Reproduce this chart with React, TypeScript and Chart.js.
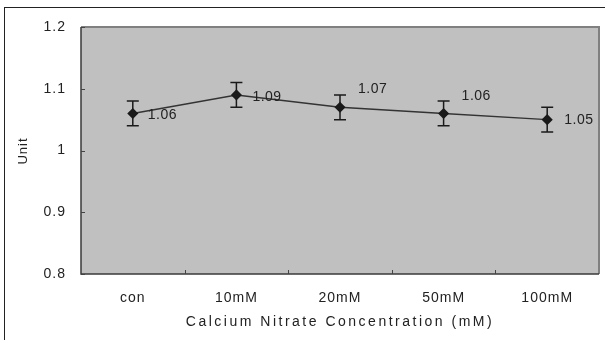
import React, { useEffect, useRef } from "react";
import { Chart, registerables } from "chart.js";

Chart.register(...registerables);

const categories = ["con", "10mM", "20mM", "50mM", "100mM"];
const means = [1.06, 1.09, 1.07, 1.06, 1.05];
const errors = [0.02, 0.02, 0.02, 0.02, 0.02];
const yTickValues = [0.8, 0.9, 1, 1.1, 1.2];
const xAxisTitle = "Calcium Nitrate Concentration (mM)";
const yAxisTitle = "Unit";

const FONT = "'Liberation Sans', Arial, sans-serif";

export default function App() {
  const ref = useRef<HTMLCanvasElement | null>(null);

  useEffect(() => {
    const canvas = ref.current;
    if (!canvas) return;

    // per-label placement relative to its point (style only)
    const labelShift: [number, number][] = [
      [15, 2],
      [16, 2],
      [18, -18],
      [18, -17],
      [17, 1],
    ];

    const deco = {
      id: "deco",
      beforeDraw(chart: any) {
        const { ctx, chartArea } = chart;
        const { left, top, right, bottom } = chartArea;
        ctx.save();
        ctx.fillStyle = "#c0c0c0";
        ctx.fillRect(left, top, right - left, bottom - top);
        ctx.restore();
        ctx.letterSpacing = "1px";
      },
      beforeDatasetsDraw(chart: any) {
        const { ctx, chartArea, scales } = chart;
        const { left, top, right, bottom } = chartArea;
        const x = scales.x;
        const y = scales.y;
        ctx.save();
        // plot border
        ctx.lineWidth = 2;
        ctx.strokeStyle = "#808080";
        ctx.beginPath();
        ctx.moveTo(left, top);
        ctx.lineTo(right, top);
        ctx.lineTo(right, bottom);
        ctx.stroke();
        ctx.strokeStyle = "#3a3a3a";
        ctx.lineWidth = 1.5;
        ctx.beginPath();
        ctx.moveTo(left, top);
        ctx.lineTo(left, bottom);
        ctx.lineTo(right, bottom);
        ctx.stroke();
        // y tick marks (inside)
        ctx.lineWidth = 1;
        ctx.strokeStyle = "#444";
        yTickValues.forEach((v) => {
          const py = Math.round(y.getPixelForValue(v)) + 0.5;
          ctx.beginPath();
          ctx.moveTo(left, py);
          ctx.lineTo(left + 4, py);
          ctx.stroke();
        });
        // x tick marks at category boundaries
        for (let i = 1; i < categories.length; i++) {
          const px =
            Math.round((x.getPixelForValue(i - 1) + x.getPixelForValue(i)) / 2) + 0.5;
          ctx.beginPath();
          ctx.moveTo(px, bottom);
          ctx.lineTo(px, bottom - 4);
          ctx.stroke();
        }
        // error bars
        ctx.strokeStyle = "#1a1a1a";
        ctx.lineWidth = 1.5;
        means.forEach((m, i) => {
          const px = x.getPixelForValue(i);
          const yHi = y.getPixelForValue(m + errors[i]);
          const yLo = y.getPixelForValue(m - errors[i]);
          ctx.beginPath();
          ctx.moveTo(px, yHi);
          ctx.lineTo(px, yLo);
          ctx.moveTo(px - 6, yHi);
          ctx.lineTo(px + 6, yHi);
          ctx.moveTo(px - 6, yLo);
          ctx.lineTo(px + 6, yLo);
          ctx.stroke();
        });
        ctx.restore();
      },
      afterDraw(chart: any) {
        const { ctx, chartArea, scales } = chart;
        const x = scales.x;
        const y = scales.y;
        ctx.save();
        // data labels
        ctx.fillStyle = "#222";
        ctx.font = `14px ${FONT}`;
        ctx.letterSpacing = "0.5px";
        ctx.textAlign = "left";
        ctx.textBaseline = "middle";
        means.forEach((m, i) => {
          const px = x.getPixelForValue(i);
          const py = y.getPixelForValue(m);
          ctx.fillText(m.toFixed(2), px + labelShift[i][0], py + labelShift[i][1]);
        });
        // x axis title
        ctx.font = `14px ${FONT}`;
        ctx.letterSpacing = "2.5px";
        ctx.textAlign = "center";
        ctx.fillText(xAxisTitle, (chartArea.left + chartArea.right) / 2, 322);
        // y axis title
        ctx.font = `13px ${FONT}`;
        ctx.letterSpacing = "1px";
        ctx.translate(23, 151);
        ctx.rotate(-Math.PI / 2);
        ctx.fillText(yAxisTitle, 0, 0);
        ctx.restore();
        ctx.letterSpacing = "0px";
      },
    };

    const chart = new Chart(canvas, {
      type: "line",
      data: {
        labels: categories,
        datasets: [
          {
            data: means,
            borderColor: "#333",
            borderWidth: 1.5,
            pointStyle: "rectRot",
            pointRadius: 4.5,
            pointBackgroundColor: "#1a1a1a",
            pointBorderColor: "#1a1a1a",
            tension: 0,
          },
        ],
      },
      options: {
        responsive: false,
        animation: false,
        layout: { padding: { left: 0, top: 27, right: 3, bottom: 0 } },
        plugins: {
          legend: { display: false },
          tooltip: { enabled: false },
        },
        scales: {
          x: {
            offset: true,
            grid: { display: false, drawTicks: false },
            border: { display: false },
            ticks: {
              color: "#222",
              font: { size: 14, family: FONT },
              padding: 16,
            },
            afterFit(scale: any) {
              scale.height = 66;
            },
          },
          y: {
            min: 0.8,
            max: 1.2,
            grid: { display: false, drawTicks: false },
            border: { display: false },
            ticks: {
              stepSize: 0.1,
              color: "#222",
              font: { size: 14, family: FONT },
              padding: 15,
              callback: (v: any) => String(Number(Number(v).toFixed(1))),
            },
            afterFit(scale: any) {
              scale.width = 81;
            },
          },
        },
      },
      plugins: [deco],
    });

    return () => chart.destroy();
  }, []);

  return (
    <div
      style={{
        position: "fixed",
        left: 0,
        top: 0,
        width: 605,
        height: 340,
        overflow: "hidden",
        background: "#fff",
      }}
    >
      <div
        style={{
          position: "absolute",
          left: 4,
          top: 7,
          width: 700,
          height: 500,
          border: "1px solid #222",
        }}
      />
      <canvas
        ref={ref}
        width={605}
        height={340}
        style={{ position: "absolute", left: 0, top: 0, width: 605, height: 340 }}
      />
    </div>
  );
}
